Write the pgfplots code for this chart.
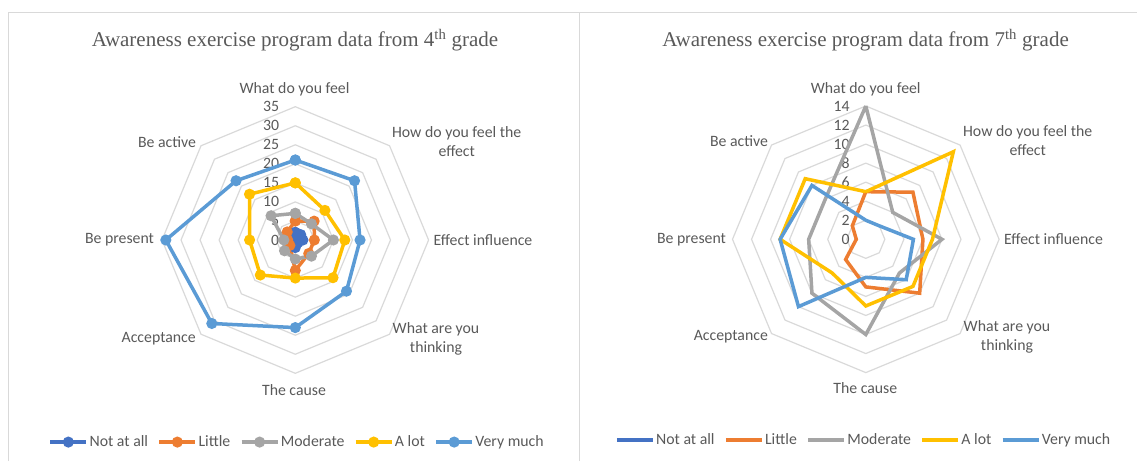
\documentclass[border=0pt]{standalone}
\usepackage{pgfplots}
\pgfplotsset{compat=1.18}
\usepgfplotslibrary{polar}
\usepackage{fontspec}
\setmainfont{Carlito}
\newfontfamily\titlefont{Liberation Serif}
\definecolor{cNot}{HTML}{4472C4}
\definecolor{cLit}{HTML}{ED7D31}
\definecolor{cMod}{HTML}{A5A5A5}
\definecolor{cLot}{HTML}{FFC000}
\definecolor{cVery}{HTML}{5B9BD5}
\definecolor{gridc}{HTML}{D9D9D9}
\definecolor{txt}{HTML}{595959}
\definecolor{framec}{HTML}{D9D9D9}
\newcommand{\lbl}{\fontsize{15.8}{19}\selectfont}
\pgfplotsset{
  radar/.style={
    scale only axis, width=266.6pt, height=266.6pt,
    hide axis,
    xmin=0, xmax=360, ymin=0,
    clip=false,
    legend columns=5,
    legend style={draw=none, fill=none, font=\lbl, text=txt, anchor=center,
       /tikz/every even column/.append style={column sep=8pt},
       nodes={inner sep=1.5pt}},
  },
  ring/.style={gridc, line width=1.2pt, forget plot, mark=none},
  ser/.style={line width=3.5pt, mark=*, mark size=3.7pt, mark options={solid, line width=1.5pt}},
  serl/.style={line width=3.5pt, mark=none},
}
\begin{document}
\begin{tikzpicture}[x=1pt,y=1pt]
\path[use as bounding box] (0,0) rectangle (1137,461);
\draw[framec, line width=1pt] (8.5,0) -- (8.5,448) -- (1137,448);
\draw[framec, line width=1pt] (579,0) -- (579,448);

% ---------------- 4th grade ----------------
\begin{polaraxis}[radar, at={(295.3pt,221pt)}, anchor=center, ymax=35,
  legend style={at={(0.506,-0.258)}},
  legend image code/.code={\draw[mark repeat=2,mark phase=2] plot coordinates {(0pt,0pt)(18pt,0pt)(36pt,0pt)};}]
\pgfplotsinvokeforeach{5,10,...,35}{
  \addplot[ring] coordinates {(90,#1)(45,#1)(0,#1)(315,#1)(270,#1)(225,#1)(180,#1)(135,#1)(90,#1)};
}
\pgfplotsinvokeforeach{0,5,...,35}{
  \node[anchor=east, font=\lbl, text=txt, inner sep=0pt, xshift=-16pt] at (axis cs:90,#1) {#1};
}
\addplot[ser, cNot, mark options={fill=cNot}] coordinates {(90,2)(45,2)(0,2)(315,1)(270,2)(225,1)(180,1)(135,1)(90,2)};
\addplot[ser, cLit, mark options={fill=cLit}] coordinates {(90,5)(45,7)(0,5)(315,5)(270,8)(225,2)(180,2)(135,3)(90,5)};
\addplot[ser, cMod, mark options={fill=cMod}] coordinates {(90,7)(45,6)(0,10)(315,6)(270,5)(225,4)(180,3)(135,9)(90,7)};
\addplot[ser, cLot, mark options={fill=cLot}] coordinates {(90,15)(45,11)(0,13)(315,14)(270,10)(225,13)(180,12)(135,17)(90,15)};
\addplot[ser, cVery, mark options={fill=cVery}] coordinates {(90,21)(45,22)(0,17)(315,19)(270,23)(225,31)(180,34)(135,22)(90,21)};
\legend{Not at all, Little, Moderate, A lot, Very much}
\end{polaraxis}

% ---------------- 7th grade ----------------
\begin{polaraxis}[radar, at={(865.8pt,221.7pt)}, anchor=center, ymax=14,
  legend style={at={(0.491,-0.253)}},
  legend image code/.code={\draw plot coordinates {(0pt,0pt)(36pt,0pt)};}]
\pgfplotsinvokeforeach{2,4,...,14}{
  \addplot[ring] coordinates {(90,#1)(45,#1)(0,#1)(315,#1)(270,#1)(225,#1)(180,#1)(135,#1)(90,#1)};
}
\pgfplotsinvokeforeach{0,2,...,14}{
  \node[anchor=east, font=\lbl, text=txt, inner sep=0pt, xshift=-16pt] at (axis cs:90,#1) {#1};
}
\addplot[serl, cNot] coordinates {(90,0)(45,0)(0,0)(315,0)(270,0)(225,0)(180,0)(135,0)(90,0)};
\addplot[serl, cLit] coordinates {(90,5)(45,7)(0,6)(315,8)(270,5)(225,3)(180,1)(135,2)(90,5)};
\addplot[serl, cMod] coordinates {(90,14)(45,4)(0,8)(315,5)(270,10)(225,8)(180,6)(135,6)(90,14)};
\addplot[serl, cLot] coordinates {(90,5)(45,13)(0,7)(315,7)(270,7)(225,5)(180,9)(135,9)(90,5)};
\addplot[serl, cVery] coordinates {(90,2)(45,2)(0,5)(315,6)(270,4)(225,10)(180,9)(135,8)(90,2)};
\legend{Not at all, Little, Moderate, A lot, Very much}
\end{polaraxis}

% titles
\node[font=\titlefont\fontsize{21}{24}\selectfont, text=txt] at (295,421) {Awareness exercise program data from 4\textsuperscript{th} grade};
\node[font=\titlefont\fontsize{21}{24}\selectfont, text=txt] at (865.6,421) {Awareness exercise program data from 7\textsuperscript{th} grade};

% category labels
\begin{scope}[every node/.style={font=\lbl, text=txt, inner sep=0pt}]
\node at (294.5,371.7) {What do you feel};
\node[align=center] at (456.7,319.8) {How do you feel the\\effect};
\node[anchor=west] at (433.5,221) {Effect influence};
\node[align=center] at (436,122.3) {What are you\\thinking};
\node at (294,71) {The cause};
\node at (158.7,122.7) {Acceptance};
\node[anchor=east] at (154.2,221) {Be present};
\node at (167,319.3) {Be active};
\node at (865.7,371.7) {What do you feel};
\node[align=center] at (1027.7,320.5) {How do you feel the\\effect};
\node[anchor=west] at (1004,221.7) {Effect influence};
\node[align=center] at (1007,124) {What are you\\thinking};
\node at (865.3,72.7) {The cause};
\node at (730.8,124.3) {Acceptance};
\node[anchor=east] at (726.2,221.7) {Be present};
\node at (739,320.3) {Be active};
\end{scope}
\end{tikzpicture}
\end{document}
